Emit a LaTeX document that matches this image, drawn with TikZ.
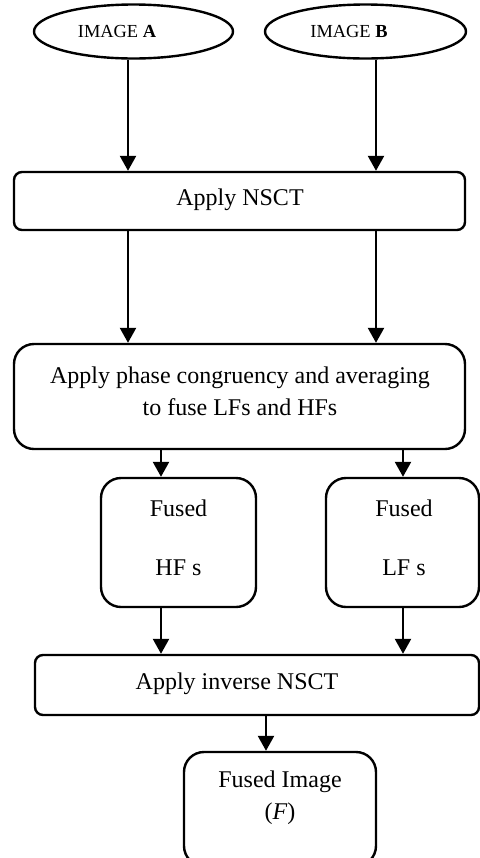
\documentclass[tikz,border=0pt]{standalone}
\usepackage{fontspec}
\setmainfont{Liberation Serif}
\usetikzlibrary{shapes.geometric,arrows.meta}
\tikzset{
  line/.style={line width=1.2pt},
  arr/.style={line, -{Triangle[length=7.5pt,width=8pt]}},
  oval/.style={line, draw, ellipse, inner sep=0pt},
  sbox/.style={line, draw, rounded corners=4pt, inner sep=0pt},
  rbox/.style={line, draw, rounded corners=10pt, inner sep=0pt},
  txt/.style={inner sep=0pt, font=\fontsize{12}{16}\selectfont, align=center},
  small/.style={inner sep=0pt, font=\fontsize{9.2}{11}\selectfont},
}
\begin{document}
\begin{tikzpicture}[x=0.5pt, y=-0.5pt]
\useasboundingbox (0,0) rectangle (480,858);

% column positions of the connectors
\coordinate (c1) at (128,0);
\coordinate (c2) at (376,0);
\coordinate (c3) at (161,0);
\coordinate (c4) at (403,0);
\coordinate (c5) at (266,0);

% input images
\node[oval, minimum width=99.5pt, minimum height=27pt] (A) at (133.5,31.5) {};
\node[small] (tA) at (117,31) {IMAGE \textbf{A}};
\node[oval, minimum width=100.5pt, minimum height=27pt] (B) at (365.5,31.5) {};
\node[small] (tB) at (349,31) {IMAGE \textbf{B}};

% forward transform
\node[sbox, minimum width=225.5pt, minimum height=29pt] (nsct) at (239.5,201) {};
\node[txt] (tnsct) at (240,200) {Apply NSCT};

% fusion rule
\node[rbox, minimum width=225.5pt, minimum height=52.5pt] (fuse) at (239.5,396.5) {};
\node[txt] (tfuse) at (240,391)
  {Apply phase congruency and averaging\\to fuse LFs and HFs};

% fused sub-bands
\node[rbox, minimum width=77.5pt, minimum height=64.5pt] (hf) at (178.5,542.5) {};
\node[txt] (thf) at (178.5,537.5) {Fused\\[13.5pt]HF s};
\node[rbox, minimum width=76.5pt, minimum height=64.5pt] (lf) at (402.5,542.5) {};
\node[txt] (tlf) at (404,537.5) {Fused\\[13.5pt]LF s};

% inverse transform
\node[sbox, minimum width=222pt, minimum height=30pt] (inv) at (257,685) {};
\node[txt] (tinv) at (237,684) {Apply inverse NSCT};

% result
\node[rbox, minimum width=96pt, minimum height=57pt] (res) at (280,809) {};
\node[txt] (tres) at (280,798) {Fused Image\\(\textit{F})};

% connectors
\draw[arr] (A.south -| c1) -- (nsct.north -| c1);
\draw[arr] (B.south -| c2) -- (nsct.north -| c2);
\draw[arr] (nsct.south -| c1) -- (fuse.north -| c1);
\draw[arr] (nsct.south -| c2) -- (fuse.north -| c2);
\draw[arr] (fuse.south -| c3) -- (hf.north -| c3);
\draw[arr] (fuse.south -| c4) -- (lf.north -| c4);
\draw[arr] (hf.south -| c3) -- (inv.north -| c3);
\draw[arr] (lf.south -| c4) -- (inv.north -| c4);
\draw[arr] (inv.south -| c5) -- (res.north -| c5);
\end{tikzpicture}
\end{document}
